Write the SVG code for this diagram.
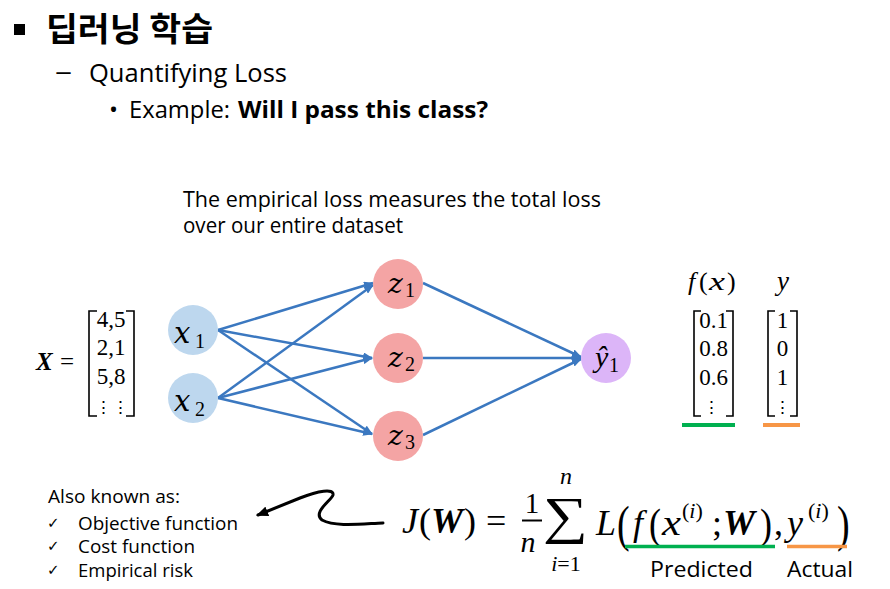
<svg xmlns="http://www.w3.org/2000/svg" width="890" height="589" viewBox="0 0 890 589">
<defs>
<style>
.sans{font-family:"Open Sans","Noto Sans CJK KR",sans-serif;fill:#000}
.kr{font-family:"Noto Sans CJK KR",sans-serif;fill:#000}
.m{font-family:"Liberation Serif","DejaVu Serif",serif;fill:#000}
.nl{font-family:"DejaVu Serif",serif;font-style:italic;fill:#000}
.i{font-style:italic}
.b{font-weight:bold}
.edge{stroke:#3b78c0;stroke-width:2.5;fill:none;marker-end:url(#ah)}
.br{stroke:#000;stroke-width:1.6;fill:none}
.xn{fill:#bdd7ee}
.zn{fill:#f4a4a4}
.yn{fill:#dcb5f8}
.ck{font-family:"DejaVu Sans",sans-serif;font-size:15px;fill:#000}
</style>
<marker id="ah" markerWidth="10" markerHeight="8" refX="9" refY="4" orient="auto" markerUnits="userSpaceOnUse">
<path d="M0,0 L10,4 L0,8 Z" fill="#3b78c0"/>
</marker>
<marker id="bh" markerWidth="12" markerHeight="10" refX="10" refY="5" orient="auto" markerUnits="userSpaceOnUse">
<path d="M0,0 L12,5 L0,10 Z" fill="#000"/>
</marker>
</defs>
<rect width="890" height="589" fill="#fff"/>

<!-- headings -->
<rect x="14" y="24" width="11" height="11" fill="#000"/>
<text class="kr b" x="46" y="41" font-size="33" textLength="167" lengthAdjust="spacingAndGlyphs">딥러닝 학습</text>
<text class="sans" x="55" y="80" font-size="26" textLength="17" lengthAdjust="spacingAndGlyphs">–</text>
<text class="sans" x="89" y="82" font-size="26" textLength="198" lengthAdjust="spacingAndGlyphs">Quantifying Loss</text>
<text class="sans" x="109" y="118" font-size="24">•</text>
<text class="sans" x="129" y="118" font-size="23" textLength="101" lengthAdjust="spacingAndGlyphs">Example:</text>
<text class="sans b" x="238" y="118" font-size="23" textLength="250" lengthAdjust="spacingAndGlyphs">Will I pass this class?</text>

<text class="sans" x="183" y="207" font-size="21" textLength="418" lengthAdjust="spacingAndGlyphs">The empirical loss measures the total loss</text>
<text class="sans" x="183" y="233" font-size="21" textLength="220" lengthAdjust="spacingAndGlyphs">over our entire dataset</text>

<!-- X matrix -->
<g id="matrix-X">
<text class="m i b" x="36" y="370" font-size="25">X</text>
<text class="m" x="60" y="370" font-size="25">=</text>
<path class="br" d="M97,311 H89 V416 H97"/>
<path class="br" d="M126,311 H134 V416 H126"/>
<text class="m" x="111" y="327" font-size="23" text-anchor="middle">4,5</text>
<text class="m" x="111" y="355" font-size="23" text-anchor="middle">2,1</text>
<text class="m" x="111" y="384" font-size="23" text-anchor="middle">5,8</text>
<text class="m" x="103" y="413" font-size="17" text-anchor="middle">⋮</text>
<text class="m" x="120" y="413" font-size="17" text-anchor="middle">⋮</text>
</g>

<!-- connectors -->
<g id="connectors">
<line class="edge" x1="218" y1="330" x2="373" y2="283"/>
<line class="edge" x1="218" y1="330" x2="372" y2="358"/>
<line class="edge" x1="218" y1="330" x2="372" y2="434"/>
<line class="edge" x1="218" y1="398" x2="373" y2="285"/>
<line class="edge" x1="218" y1="398" x2="372" y2="358"/>
<line class="edge" x1="218" y1="398" x2="372" y2="434"/>
<line class="edge" x1="423" y1="283" x2="581" y2="357"/>
<line class="edge" x1="423" y1="358" x2="581" y2="358"/>
<line class="edge" x1="423" y1="435" x2="581" y2="359"/>
</g>

<!-- nodes -->
<g id="node-x1">
<circle class="xn" cx="193" cy="330" r="25"/>
<text class="nl" x="174" y="343" font-size="29">x</text>
<text class="m" x="195" y="348" font-size="20">1</text>
</g>
<g id="node-x2">
<circle class="xn" cx="193" cy="398" r="25"/>
<text class="nl" x="174" y="411" font-size="29">x</text>
<text class="m" x="195" y="416" font-size="20">2</text>
</g>
<g id="node-z1">
<circle class="zn" cx="398" cy="284" r="25"/>
<text class="nl" x="388" y="293" font-size="28">z</text>
<text class="m" x="405" y="297" font-size="20">1</text>
</g>
<g id="node-z2">
<circle class="zn" cx="398" cy="358" r="25"/>
<text class="nl" x="388" y="367" font-size="28">z</text>
<text class="m" x="405" y="371" font-size="20">2</text>
</g>
<g id="node-z3">
<circle class="zn" cx="398" cy="436" r="25"/>
<text class="nl" x="388" y="445" font-size="28">z</text>
<text class="m" x="405" y="449" font-size="20">3</text>
</g>
<g id="node-y1">
<circle class="yn" cx="606" cy="358" r="25"/>
<text class="m i" x="595" y="367" font-size="30">ŷ</text>
<text class="m" x="609" y="372" font-size="20">1</text>
</g>

<!-- f(x) and y matrices -->
<g id="matrix-f">
<text class="m i" x="688" y="290" font-size="26">f</text>
<text class="m" x="699" y="290" font-size="26">(</text>
<text class="m i" x="709" y="290" font-size="26" textLength="16" lengthAdjust="spacingAndGlyphs">x</text>
<text class="m" x="727" y="290" font-size="26">)</text>
<path class="br" d="M701,311 H694 V416 H701"/>
<path class="br" d="M726,311 H733 V416 H726"/>
<text class="m" x="713.5" y="328" font-size="23" text-anchor="middle">0.1</text>
<text class="m" x="713.5" y="356" font-size="23" text-anchor="middle">0.8</text>
<text class="m" x="713.5" y="385" font-size="23" text-anchor="middle">0.6</text>
<text class="m" x="711" y="413" font-size="17" text-anchor="middle">⋮</text>
<line x1="682" y1="425" x2="735" y2="425" stroke="#00b050" stroke-width="4"/>
</g>
<g id="matrix-y">
<text class="m i" x="777" y="290" font-size="27">y</text>
<path class="br" d="M775,311 H768 V416 H775"/>
<path class="br" d="M790,311 H797 V416 H790"/>
<text class="m" x="782.5" y="328" font-size="23" text-anchor="middle">1</text>
<text class="m" x="782.5" y="356" font-size="23" text-anchor="middle">0</text>
<text class="m" x="782.5" y="385" font-size="23" text-anchor="middle">1</text>
<text class="m" x="782.5" y="413" font-size="17" text-anchor="middle">⋮</text>
<line x1="763" y1="425" x2="800" y2="425" stroke="#f79646" stroke-width="4"/>
</g>

<!-- also known as -->
<g id="aka">
<text class="sans" x="48" y="503" font-size="18" textLength="132" lengthAdjust="spacingAndGlyphs">Also known as:</text>
<text class="ck" x="47" y="528">✓</text>
<text class="sans" x="78" y="530" font-size="18" textLength="160" lengthAdjust="spacingAndGlyphs">Objective function</text>
<text class="ck" x="47" y="551">✓</text>
<text class="sans" x="78" y="553" font-size="18" textLength="117" lengthAdjust="spacingAndGlyphs">Cost function</text>
<text class="ck" x="47" y="575">✓</text>
<text class="sans" x="78" y="577" font-size="18" textLength="115" lengthAdjust="spacingAndGlyphs">Empirical risk</text>
</g>
<path d="M383,523 C360,524 335,527 322,520 C312,512 332,500 333,495 C334,488 318,491 300,498 L258,515" fill="none" stroke="#000" stroke-width="3" stroke-linecap="round" marker-end="url(#bh)"/>

<!-- formula -->
<g id="formula">
<text class="m i" x="402" y="533" font-size="36">J</text>
<text class="m" x="419" y="533" font-size="36">(</text>
<text class="m i b" x="431" y="533" font-size="36">W</text>
<text class="m" x="464" y="533" font-size="36">)</text>
<text class="m" x="486" y="533" font-size="36">=</text>
<text class="m" x="532" y="513" font-size="29" text-anchor="middle">1</text>
<line x1="522" y1="520.5" x2="542" y2="520.5" stroke="#000" stroke-width="2"/>
<text class="m i" x="528" y="552" font-size="30" text-anchor="middle">n</text>
<text class="m" x="543" y="533" font-size="52" textLength="45" lengthAdjust="spacingAndGlyphs">∑</text>
<text class="m i" x="566" y="484" font-size="24" text-anchor="middle">n</text>
<text class="m" x="566" y="571" font-size="22" text-anchor="middle"><tspan class="i">i</tspan>=1</text>
<text class="m i" x="596" y="535" font-size="36">L</text>
<text class="m" transform="translate(617,541) scale(1,1.35)" font-size="38">(</text>
<text class="m i" x="633" y="535" font-size="36">f</text>
<text class="m" transform="translate(649,538) scale(1,1.15)" font-size="36">(</text>
<text class="m i" x="662" y="535" font-size="36" textLength="19" lengthAdjust="spacingAndGlyphs">x</text>
<text class="m" x="682" y="518" font-size="22">(<tspan class="i">i</tspan>)</text>
<text class="m" x="712" y="535" font-size="36">;</text>
<text class="m i b" x="723" y="535" font-size="36">W</text>
<text class="m" transform="translate(760,538) scale(1,1.15)" font-size="36">)</text>
<text class="m" x="774" y="535" font-size="36">,</text>
<text class="m i" x="787" y="535" font-size="36">y</text>
<text class="m" x="808" y="518" font-size="22">(<tspan class="i">i</tspan>)</text>
<text class="m" transform="translate(837,541) scale(1,1.35)" font-size="38">)</text>
<line x1="625" y1="546.5" x2="775" y2="546.5" stroke="#00b050" stroke-width="3.5"/>
<line x1="787" y1="546.5" x2="847" y2="546.5" stroke="#f79646" stroke-width="3.5"/>
<text class="sans" x="650" y="577" font-size="22" textLength="103" lengthAdjust="spacingAndGlyphs">Predicted</text>
<text class="sans" x="787" y="577" font-size="22" textLength="66" lengthAdjust="spacingAndGlyphs">Actual</text>
</g>
</svg>
